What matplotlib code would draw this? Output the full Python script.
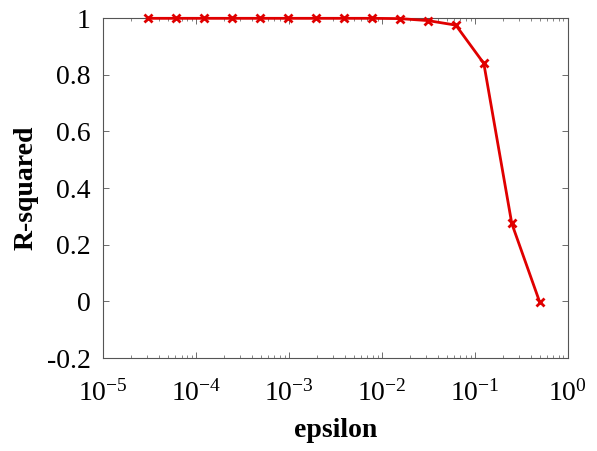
import matplotlib
matplotlib.use("Agg")
import matplotlib.pyplot as plt
from matplotlib.ticker import LogLocator, FixedLocator

plt.rcParams["font.family"] = ["Liberation Serif", "DejaVu Serif"]
plt.rcParams["mathtext.fontset"] = "custom"
plt.rcParams["mathtext.rm"] = "Liberation Serif"
plt.rcParams["mathtext.it"] = "Liberation Serif:italic"
plt.rcParams["mathtext.bf"] = "Liberation Serif:bold"

# epsilon values (powers of two) and the resulting R-squared
epsilon = [3.05e-5, 6.1e-5, 1.22e-4, 2.44e-4, 4.88e-4, 9.77e-4, 1.95e-3,
           3.91e-3, 7.81e-3, 1.5625e-2, 3.125e-2, 6.25e-2, 0.125, 0.25, 0.5]
r_squared = [0.999, 0.999, 0.999, 0.999, 0.999, 0.999, 0.999,
             0.999, 0.999, 0.998, 0.991, 0.975, 0.840, 0.275, -0.003]

y_ticks = [-0.2, 0, 0.2, 0.4, 0.6, 0.8, 1]
y_tick_labels = ["-0.2", "0", "0.2", "0.4", "0.6", "0.8", "1"]

fig = plt.figure(figsize=(5.97, 4.51), dpi=100)
ax = fig.add_axes([0.1725, 0.206, 0.7785, 0.754])

ax.plot(epsilon, r_squared, color="#e00000", linewidth=2, marker="x",
        markersize=6, markeredgewidth=2, clip_on=False, zorder=3)

ax.set_xscale("log")
ax.set_xlim(1e-5, 1)
ax.set_ylim(-0.2, 1)
ax.xaxis.set_major_locator(LogLocator(base=10, numticks=10))
ax.xaxis.set_minor_locator(LogLocator(base=10, subs=range(2, 10), numticks=10))
ax.yaxis.set_major_locator(FixedLocator(y_ticks))
ax.set_yticklabels(y_tick_labels)

ax.tick_params(which="both", direction="in", top=True, right=True,
               labelsize=20, color="#555555")
ax.tick_params(which="major", length=4, width=0.6)
ax.tick_params(which="minor", length=2, width=0.5)
ax.tick_params(axis="y", which="major", pad=9)
ax.tick_params(axis="x", which="major", pad=16)
for spine in ax.spines.values():
    spine.set_color("#555555")
    spine.set_linewidth(0.8)

ax.set_xlabel("epsilon", fontsize=20, fontweight="bold", labelpad=8)
ax.set_ylabel("R-squared", fontsize=20, fontweight="bold", labelpad=6)

fig.savefig("out.png", dpi=100)
